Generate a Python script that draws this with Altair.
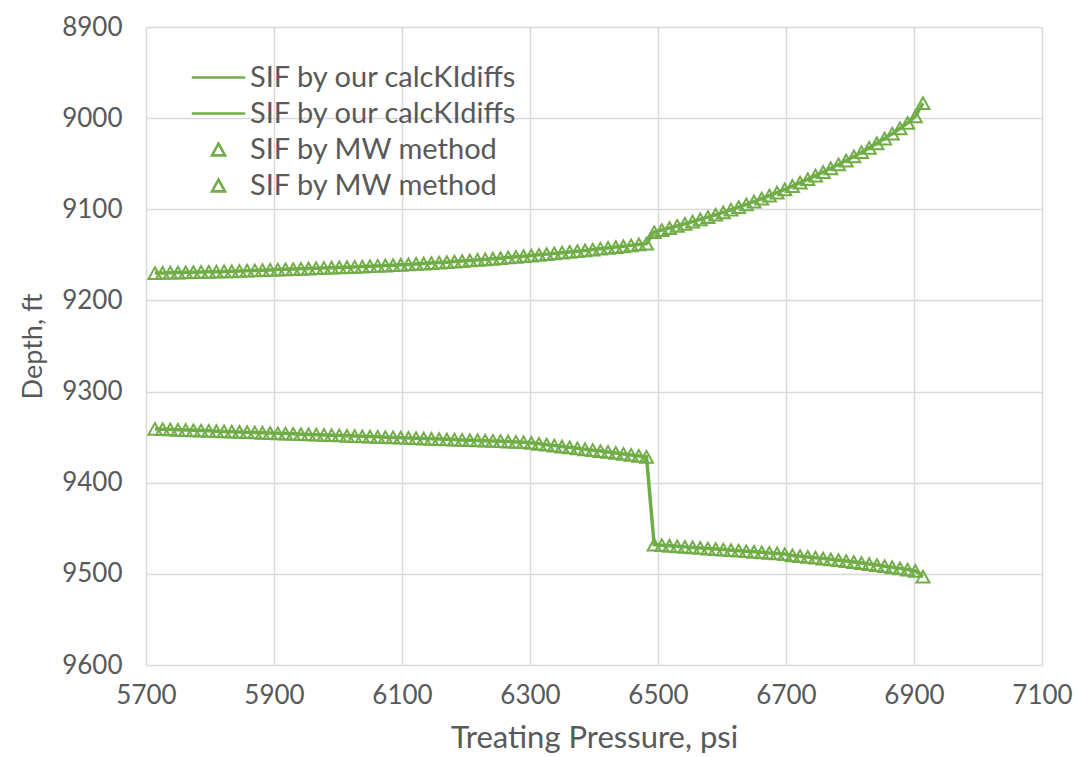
import altair as alt
import pandas as pd

# Treating pressure (psi) of each computed point
pressure = [5714, 5726, 5738, 5750, 5762, 5774, 5786, 5798, 5810, 5822,
            5834, 5846, 5858, 5870, 5882, 5894, 5906, 5918, 5930, 5942,
            5954, 5966, 5978, 5990, 6002, 6014, 6026, 6038, 6050, 6062,
            6074, 6086, 6098, 6110, 6122, 6134, 6146, 6158, 6170, 6182,
            6194, 6206, 6218, 6230, 6242, 6254, 6266, 6278, 6290, 6302,
            6314, 6326, 6338, 6350, 6362, 6374, 6386, 6398, 6410, 6422,
            6434, 6446, 6458, 6470, 6482, 6494, 6506, 6518, 6530, 6542,
            6554, 6566, 6578, 6590, 6602, 6614, 6626, 6638, 6650, 6662,
            6674, 6686, 6698, 6710, 6722, 6734, 6746, 6758, 6770, 6782,
            6794, 6806, 6818, 6830, 6842, 6854, 6866, 6878, 6890, 6902,
            6914]

# Upper fracture tip depth (ft)
upper_depth = [9170.0, 9169.8, 9169.6, 9169.4, 9169.2, 9169.0, 9168.8, 9168.6, 9168.4, 9168.2,
               9168.0, 9167.7, 9167.4, 9167.1, 9166.8, 9166.5, 9166.2, 9165.9, 9165.6, 9165.3,
               9165.0, 9164.7, 9164.4, 9164.1, 9163.8, 9163.5, 9163.2, 9162.9, 9162.5, 9162.1,
               9161.7, 9161.3, 9160.9, 9160.5, 9160.0, 9159.5, 9159.0, 9158.5, 9158.0, 9157.4,
               9156.8, 9156.2, 9155.6, 9155.0, 9154.3, 9153.6, 9152.9, 9152.2, 9151.5, 9150.8,
               9150.0, 9149.2, 9148.4, 9147.6, 9146.8, 9146.0, 9145.1, 9144.2, 9143.3, 9142.4,
               9141.5, 9140.6, 9139.6, 9138.6, 9137.6, 9125.0, 9122.8, 9120.6, 9118.3, 9116.0,
               9113.6, 9111.1, 9108.6, 9106.0, 9103.3, 9100.5, 9097.6, 9094.6, 9091.5, 9088.3,
               9085.0, 9081.6, 9078.1, 9074.5, 9070.8, 9067.0, 9063.1, 9059.1, 9055.0, 9050.8,
               9046.5, 9042.0, 9037.4, 9032.6, 9027.6, 9022.4, 9017.0, 9011.3, 9005.2, 8998.0,
               8983.5]

# Lower fracture tip depth (ft)
lower_depth = [9341.0, 9341.3, 9341.6, 9341.9, 9342.2, 9342.5, 9342.8, 9343.1, 9343.4, 9343.7,
               9344.0, 9344.3, 9344.6, 9344.9, 9345.2, 9345.5, 9345.8, 9346.1, 9346.4, 9346.7,
               9347.0, 9347.3, 9347.6, 9347.9, 9348.2, 9348.5, 9348.8, 9349.1, 9349.4, 9349.7,
               9350.0, 9350.3, 9350.6, 9350.9, 9351.2, 9351.5, 9351.8, 9352.1, 9352.4, 9352.7,
               9353.0, 9353.3, 9353.6, 9353.9, 9354.2, 9354.5, 9354.8, 9355.2, 9355.6, 9356.3,
               9357.3, 9358.3, 9359.3, 9360.3, 9361.3, 9362.3, 9363.3, 9364.3, 9365.3, 9366.3,
               9367.3, 9368.4, 9369.5, 9370.6, 9371.7, 9468.0, 9468.6, 9469.2, 9469.8, 9470.4,
               9471.0, 9471.6, 9472.2, 9472.8, 9473.4, 9474.0, 9474.6, 9475.2, 9475.8, 9476.4,
               9477.0, 9477.6, 9478.3, 9479.8, 9480.6, 9481.4, 9482.3, 9483.2, 9484.1, 9485.0,
               9486.0, 9487.0, 9488.1, 9489.2, 9490.4, 9491.6, 9492.8, 9494.0, 9495.3, 9496.8,
               9503.0]

legend_keys = ["L1", "L2", "M1", "M2"]
legend_labels = ["SIF by our calcKIdiffs", "SIF by our calcKIdiffs",
                 "SIF by MW method", "SIF by MW method"]
x_ticks = [5700, 5900, 6100, 6300, 6500, 6700, 6900, 7100]
y_ticks = [8900, 9000, 9100, 9200, 9300, 9400, 9500, 9600]

GREEN = "#70AD47"
TEXT = "#595959"
FONT = "Lato"

rows = []
for p, d in zip(pressure, upper_depth):
    rows.append({"p": p, "d": d, "curve": "upper", "series": "M1"})
for p, d in zip(pressure, lower_depth):
    rows.append({"p": p, "d": d, "curve": "lower", "series": "M2"})
df = pd.DataFrame(rows)

label_expr = " : ".join(
    f"datum.value == '{k}' ? '{l}'" for k, l in zip(legend_keys, legend_labels)
) + " : ''"

x_enc = alt.X("p:Q", scale=alt.Scale(domain=[5700, 7100], nice=False, zero=False),
              axis=alt.Axis(values=x_ticks, format="d", title="Treating Pressure, psi",
                            labelPadding=17, titlePadding=15, labelFlush=False,
                            labelOverlap=False, titleFontSize=31))
y_enc = alt.Y("d:Q", scale=alt.Scale(domain=[8900, 9600], reverse=True, nice=False, zero=False),
              axis=alt.Axis(values=y_ticks, format="d", title="Depth, ft",
                            labelPadding=24, titlePadding=14, labelFlush=False,
                            labelOverlap=False, titleFontSize=27))

line_path = "M-4.1,0H4.1"
tri_path = "M0,-0.9L1,0.9L-1,0.9Z"

lines = alt.Chart(df).mark_line(color=GREEN, strokeWidth=3.5).encode(
    x=x_enc, y=y_enc, detail="curve:N", order="p:Q"
)

points = alt.Chart(df).mark_point(filled=False, color=GREEN, size=170, strokeWidth=2, opacity=1).encode(
    x="p:Q",
    y="d:Q",
    shape=alt.Shape("series:N",
                    scale=alt.Scale(domain=legend_keys,
                                    range=[line_path, line_path, tri_path, tri_path]),
                    legend=alt.Legend(title=None, orient="none", legendX=58, legendY=36,
                                      labelExpr=label_expr, symbolSize=170, labelLimit=600,
                                      symbolStrokeColor=GREEN, symbolFillColor="transparent",
                                      symbolStrokeWidth=2.6, labelOffset=17, rowPadding=6,
                                      labelFontSize=29, labelColor=TEXT, labelFont=FONT,
                                      padding=0, symbolOffset=0)),
)

chart = alt.layer(lines, points).properties(
    width=896, height=638,
    autosize=alt.AutoSizeParams(type="none"),
    padding={"left": 146, "top": 27, "right": 36, "bottom": 92},
    background="white",
).configure_view(stroke=None).configure_axis(
    grid=True, gridColor="#d9d9d9", gridWidth=1.5, domain=False, ticks=False,
    labelFont=FONT, labelFontSize=26, labelColor=TEXT,
    titleFont=FONT, titleColor=TEXT, titleFontWeight="normal",
)

chart.save("out.html", embed_options={"renderer": "svg", "actions": False})
